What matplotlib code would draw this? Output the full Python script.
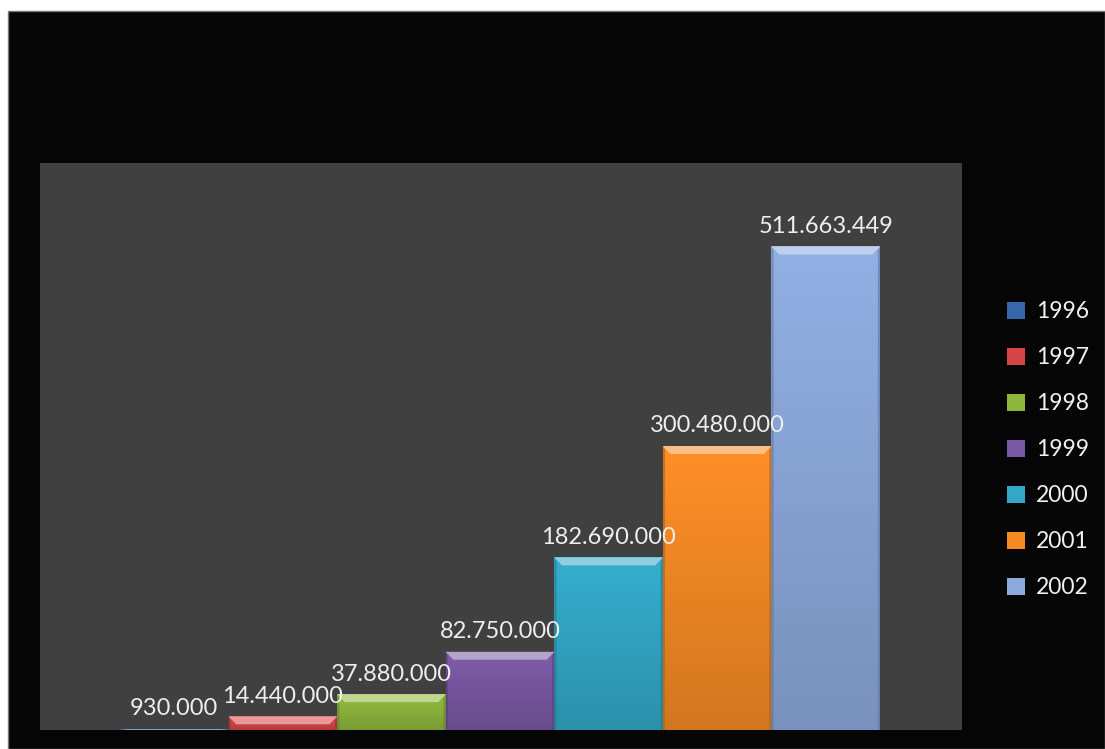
import numpy as np
import matplotlib
matplotlib.use('Agg')
import matplotlib.pyplot as plt
import matplotlib.colors as mcolors
from matplotlib.patches import Rectangle, Polygon

years = ['1996', '1997', '1998', '1999', '2000', '2001', '2002']
values = [930000, 14440000, 37880000, 82750000, 182690000, 300480000, 511663449]
labels = ['930.000', '14.440.000', '37.880.000', '82.750.000',
          '182.690.000', '300.480.000', '511.663.449']
colors = ['#3568A8', '#D64545', '#8DB63C', '#7B58A3', '#33A8C6', '#F58A25', '#8CA9DC']

plt.rcParams['font.family'] = ['Lato', 'DejaVu Sans']

fig = plt.figure(figsize=(11.05, 7.49), dpi=100, facecolor='white')
# black chart area with a thin grey border on the left/top
fig.patches.append(Rectangle((8 / 1105, 0), 1 - 8 / 1105, 1 - 11 / 749,
                             transform=fig.transFigure, facecolor='#060606',
                             edgecolor='#777777', linewidth=1.0, zorder=-5))

ax = fig.add_axes([40 / 1105, 19 / 749, 922 / 1105, 567 / 749])
ax.set_zorder(1)
ax.set_facecolor('#404040')
ymax = 600e6

bev_y = ymax * 0.014
bev_x = 0.07
handles = []
for i, (v, c, lab) in enumerate(zip(values, colors, labels)):
    x0, x1 = i - 0.5, i + 0.5
    rgb = np.array(mcolors.to_rgb(c))
    # vertical gradient body
    top = np.clip(rgb * 1.04, 0, 1)
    bot = rgb * 0.86
    grad = np.linspace(0, 1, 64)[:, None, None]
    img = top * (1 - grad) + bot * grad
    rect = Rectangle((x0, 0), 1, v, facecolor=c, edgecolor='none', zorder=2)
    ax.add_patch(rect)
    im = ax.imshow(img, extent=(x0, x1, 0, v), aspect='auto', zorder=2.5,
                   origin='upper')
    im.set_clip_path(rect)
    # bevel edges
    b = min(bev_y, v)
    light = np.clip(rgb + (1 - rgb) * 0.45, 0, 1)
    dark = rgb * 0.7
    ax.add_patch(Polygon([(x0, v), (x1, v), (x1 - bev_x, v - b), (x0 + bev_x, v - b)],
                         closed=True, facecolor=light, edgecolor='none', zorder=3))
    ax.add_patch(Polygon([(x0, 0), (x0 + 0.02, 0), (x0 + 0.02, v - b * 0.5), (x0, v)],
                         closed=True, facecolor=dark, edgecolor='none', zorder=3, alpha=0.6))
    ax.add_patch(Polygon([(x1, 0), (x1 - 0.02, 0), (x1 - 0.02, v - b * 0.5), (x1, v)],
                         closed=True, facecolor=dark, edgecolor='none', zorder=3, alpha=0.6))
    ax.text(i, v + ymax * 0.017, lab, ha='center', va='bottom', color='#EEEEEE',
            fontsize=17, zorder=5)
    handles.append(Rectangle((0, 0), 1, 1, facecolor=c, edgecolor='none'))

ax.set_xlim(-1.237, 7.255)
ax.set_ylim(0, ymax)
ax.set_xticks([])
ax.set_yticks([])
for s in ax.spines.values():
    s.set_visible(False)

fig.legend(handles, years, loc='upper left', bbox_to_anchor=(996 / 1105, 1 - 290 / 749),
           frameon=False, fontsize=16.5, labelcolor='#F0F0F0', handlelength=0.75,
           handleheight=0.75, handletextpad=0.5, labelspacing=1.09, borderpad=0)

fig.savefig('out.png', dpi=100, facecolor=fig.get_facecolor())
